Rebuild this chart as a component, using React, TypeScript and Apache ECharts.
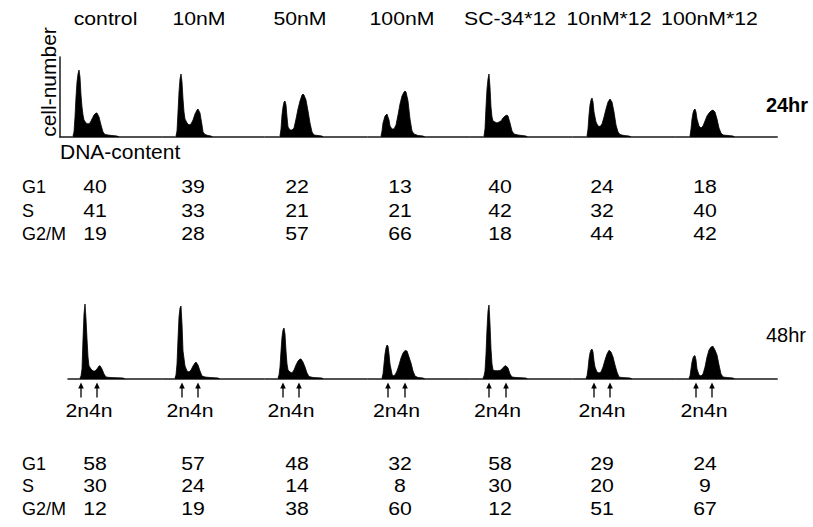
import React, { useEffect, useRef } from "react";
import * as echarts from "echarts";

// ---------- DATA ----------
const treatments = ["control", "10nM", "50nM", "100nM", "SC-34*12", "10nM*12", "100nM*12"];
const phases = ["G1", "S", "G2/M"];
const timeLabels = ["24hr", "48hr"];
const g1_24 = [40, 39, 22, 13, 40, 24, 18];
const s_24 = [41, 33, 21, 21, 42, 32, 40];
const g2m_24 = [19, 28, 57, 66, 18, 44, 42];
const g1_48 = [58, 57, 48, 32, 58, 29, 24];
const s_48 = [30, 24, 14, 8, 30, 20, 9];
const g2m_48 = [12, 19, 38, 60, 12, 51, 67];
// DNA channel of the 2n and 4n markers under each 48hr histogram
const ch2n = [21, 19.4, 17.8, 20.2, 18.6, 21, 20.4];
const ch4n = [37, 35.4, 33.8, 37.2, 35.6, 37, 36.4];

// histograms: [DNA channel, cell number]
const h24_control = [[13,1],[14,5],[15,20],[16,40],[17,55],[18,63],[19,67],[20,60],[21,42],[22,30],[23,22],[24,17],[26,14],[28,13],[30,14],[32,18],[34,22],[36,24],[37,24],[39,20],[41,12],[43,5],[45,2.5],[48,2],[52,1.5],[57,1],[59,0]];
const h24_10 = [[13.4,1],[14.4,6],[15.4,25],[16.4,45],[17.4,58],[18.4,63],[19.4,55],[20.4,38],[21.4,25],[22.4,18],[24.4,14],[26.4,12],[28.4,13],[30.4,17],[32.4,23],[34.4,27],[35.4,28],[37.4,24],[39.4,12],[40.4,5],[42.4,2.5],[45.4,1.5],[48.4,1],[50,0]];
const h24_50 = [[14.8,1],[15.8,8],[16.8,22],[17.8,30],[18.8,35],[19.8,36],[20.8,32],[21.8,20],[22.8,10],[24.8,7],[26.8,7],[28.8,9],[30.8,18],[32.8,28],[34.8,36],[36.8,42],[37.8,43],[38.8,42],[40.8,37],[42.8,26],[44.8,14],[46.8,5],[48.8,2],[52.8,1.5],[56.8,1],[58,0]];
const h24_100 = [[13.2,1],[14.2,6],[15.2,14],[17.2,21],[19.2,23],[21.2,17],[22.2,11],[24.2,8],[26.2,8],[28.2,12],[30.2,22],[32.2,33],[34.2,41],[36.2,45],[37.2,46],[38.2,45],[40.2,36],[42.2,18],[44.2,6],[46.2,3],[50.2,1.5],[55.2,1],[57,0]];
const h24_sc = [[13.6,1],[14.6,8],[15.6,30],[16.6,48],[17.6,58],[18.6,63],[19.6,50],[20.6,30],[21.6,20],[22.6,16],[24.6,15],[26.6,14],[28.6,15],[30.6,16],[32.6,19],[34.6,21],[36.6,22],[37.6,21],[39.6,14],[41.6,6],[43.6,3],[47.6,2],[55.6,1],[57,0]];
const h24_10x12 = [[14,1],[15,8],[16,22],[17,32],[18,37],[19,39],[20,35],[21,25],[23,15],[25,11],[27,10.5],[29,13],[31,20],[33,28],[35,35],[37,38],[39,35],[41,25],[43,12],[45,5],[47,2.5],[51,1.5],[56,1],[58,0]];
const h24_100x12 = [[14.4,1],[15.4,8],[16.4,18],[17.4,24],[18.4,27],[19.4,28],[20.4,25],[21.4,18],[23.4,11],[25.4,9],[27.4,11],[29.4,16],[31.4,21],[33.4,24],[35.4,26],[37.4,27],[39.4,25],[41.4,18],[43.4,9],[45.4,4],[47.4,2],[52.4,1.5],[57.4,1],[59,0]];

const h48_control = [[20,1],[21,3],[22,10],[23,40],[24,65],[25,75],[26,60],[27,40],[28,22],[29,13],[31,10],[33,8],[35,8],[37,10],[39,13],[40,13.3],[42,10],[44,5],[46,2],[50,1.5],[63,1],[65,0]];
const h48_10 = [[12.4,1],[13.4,4],[14.4,15],[15.4,40],[16.4,62],[17.4,71],[18.4,73],[19.4,55],[20.4,28],[22.4,13],[24.4,8],[26.4,7],[28.4,9],[30.4,13],[32.4,16],[33.4,17],[35.4,14],[37.4,8],[39.4,3],[42.4,2],[47.4,1.5],[55.4,1],[57,0]];
const h48_50 = [[12.8,1],[13.8,4],[14.8,12],[15.8,28],[16.8,42],[17.8,49],[18.8,51],[19.8,45],[20.8,28],[21.8,15],[22.8,9],[24.8,7],[26.8,6],[28.8,9],[30.8,14],[32.8,18],[34.8,20],[35.8,20],[37.8,17],[39.8,12],[41.8,6],[43.8,2.5],[47.8,1.5],[56.8,1],[58,0]];
const h48_100 = [[14.2,1],[15.2,5],[16.2,15],[17.2,25],[18.2,31],[19.2,34],[20.2,33],[21.2,25],[22.2,15],[24.2,5],[25.2,3],[27.2,4],[29.2,8],[31.2,14],[33.2,21],[35.2,26],[37.2,28.5],[39.2,28],[41.2,22],[43.2,16],[45.2,8],[47.2,3],[50.2,1.5],[55.2,1],[57,0]];
const h48_sc = [[12.6,1],[13.6,3],[14.6,8],[15.6,25],[16.6,50],[17.6,68],[18.6,74],[19.6,55],[20.6,30],[21.6,15],[22.6,9],[24.6,8.3],[27.6,8.3],[29.6,8.5],[31.6,10],[33.6,12.5],[35.6,13.3],[37.6,11],[39.6,5],[41.6,2],[45.6,1.5],[55.6,1],[57,0]];
const h48_10x12 = [[13,1],[14,3],[15,10],[16,20],[17,26],[18,29],[19,30],[20,27],[21,18],[22,12],[24,7],[26,6],[28,7],[30,12],[32,19],[34,25],[36,28.7],[38,27],[40,22],[42,14],[44,7],[46,2],[49,1.5],[57,1],[59,0]];
const h48_100x12 = [[13.4,1],[14.4,3],[15.4,10],[16.4,17],[17.4,21],[18.4,23],[19.4,23.3],[20.4,19],[21.4,10],[23.4,4],[25.4,3],[27.4,5],[29.4,12],[31.4,22],[33.4,29],[35.4,32],[37.4,32.7],[39.4,29],[41.4,24],[43.4,14],[45.4,5],[47.4,2],[51.4,1.5],[57.4,1],[59,0]];

const hist24 = [h24_control, h24_10, h24_50, h24_100, h24_sc, h24_10x12, h24_100x12];
const hist48 = [h48_control, h48_10, h48_50, h48_100, h48_sc, h48_10x12, h48_100x12];

// ---------- LAYOUT ----------
const FONT = '"Liberation Sans", Arial, Helvetica, sans-serif';
const W = 813, H = 527;
const PANEL_X0 = 60, PANEL_STRIDE = 102.6, PANEL_W = 101.6;
const BASE_Y = [137, 379];
const PLOT_H = 80;
const headerX = [105.5, 199, 300, 402, 510, 609, 709.5];
const colX = [95, 193, 297, 400, 500, 602, 705];
const tableY = [[187, 210.5, 234], [464, 486, 508.5]];

function txt(x: number, y: number, s: string, size: number, extra: any = {}) {
  const { scaleX = 1, weight = "normal", align = "center", rotation = 0 } = extra;
  return {
    type: "text", x, y, scaleX, rotation, silent: true,
    style: {
      text: s, x: 0, y: 0, fontSize: size, fontFamily: FONT, fontWeight: weight, fill: "#000",
      align, verticalAlign: "middle", textAlign: align, textVerticalAlign: "middle",
    },
  };
}

export default function App() {
  const ref = useRef<HTMLDivElement>(null);
  useEffect(() => {
    if (!ref.current) return;
    const chart = echarts.init(ref.current, undefined, { renderer: "svg" });

    const grids: any[] = [], xAxes: any[] = [], yAxes: any[] = [], series: any[] = [];
    const rows = [hist24, hist48];
    rows.forEach((row, r) => {
      row.forEach((data, i) => {
        const k = grids.length;
        const trim = r === 1 && i === 0 ? 8 : 0; // bottom-left panel's axis starts later
        grids.push({ left: PANEL_X0 + i * PANEL_STRIDE + trim, top: BASE_Y[r] - PLOT_H, width: PANEL_W - trim, height: PLOT_H });
        xAxes.push({
          type: "value", gridIndex: k, min: trim, max: PANEL_W,
          axisLine: { show: true, onZero: false, lineStyle: { color: "#1a1a1a", width: 1.5 } },
          axisTick: { show: false }, axisLabel: { show: false }, splitLine: { show: false },
        });
        yAxes.push({
          type: "value", gridIndex: k, min: 0, max: PLOT_H,
          axisLine: { show: r === 0 && i === 0, lineStyle: { color: "#1a1a1a", width: 1.5 } },
          axisTick: { show: false }, axisLabel: { show: false }, splitLine: { show: false },
        });
        series.push({
          type: "line", xAxisIndex: k, yAxisIndex: k, data, symbol: "none", silent: true,
          lineStyle: { color: "#000", width: 0.8 }, areaStyle: { color: "#000", opacity: 1 },
        });
      });
    });

    const texts: any[] = [];
    treatments.forEach((t, i) => texts.push(txt(headerX[i], 18.5, t, 18, { scaleX: 1.18 })));
    texts.push(txt(48, 82, "cell-number", 21, { rotation: Math.PI / 2 }));
    texts.push(txt(60, 151, "DNA-content", 21, { align: "left" }));
    texts.push(txt(787, 105, timeLabels[0], 20, { weight: "bold" }));
    texts.push(txt(786, 335, timeLabels[1], 20));
    const tables = [[g1_24, s_24, g2m_24], [g1_48, s_48, g2m_48]];
    tables.forEach((tab, r) => {
      tab.forEach((vals, p) => {
        texts.push(txt(22, tableY[r][p], phases[p], 18, { align: "left" }));
        vals.forEach((v, i) => texts.push(txt(colX[i], tableY[r][p], String(v), 18, { scaleX: 1.18 })));
      });
    });

    chart.setOption({
      animation: false,
      backgroundColor: "#fff",
      grid: grids, xAxis: xAxes, yAxis: yAxes, series,
      graphic: { elements: texts },
    });

    // arrows and 2n/4n labels placed through the axes of the 48hr panels
    const extra: any[] = [];
    for (let i = 0; i < 7; i++) {
      const k = 7 + i;
      const pts = [ch2n[i], ch4n[i]].map((c) => chart.convertToPixel({ xAxisIndex: k, yAxisIndex: k }, [c, 0]) as number[]);
      pts.forEach(([x, y]) => {
        extra.push({ type: "line", silent: true, shape: { x1: x, y1: y + 8, x2: x, y2: y + 18.5 }, style: { stroke: "#000", lineWidth: 1.3 } });
        extra.push({ type: "polygon", silent: true, shape: { points: [[x, y + 3.5], [x - 2.8, y + 9.5], [x + 2.8, y + 9.5]] }, style: { fill: "#000" } });
      });
      const mid = (pts[0][0] + pts[1][0]) / 2;
      extra.push(txt(mid, pts[0][1] + 32, "2n4n", 18, { scaleX: 1.18 }));
    }
    chart.setOption({ graphic: { elements: [...texts, ...extra] } });

    return () => chart.dispose();
  }, []);
  return (
    <div style={{ position: "fixed", left: 0, top: 0, width: W, height: H, background: "#fff" }}>
      <div ref={ref} style={{ width: W, height: H }} />
    </div>
  );
}
